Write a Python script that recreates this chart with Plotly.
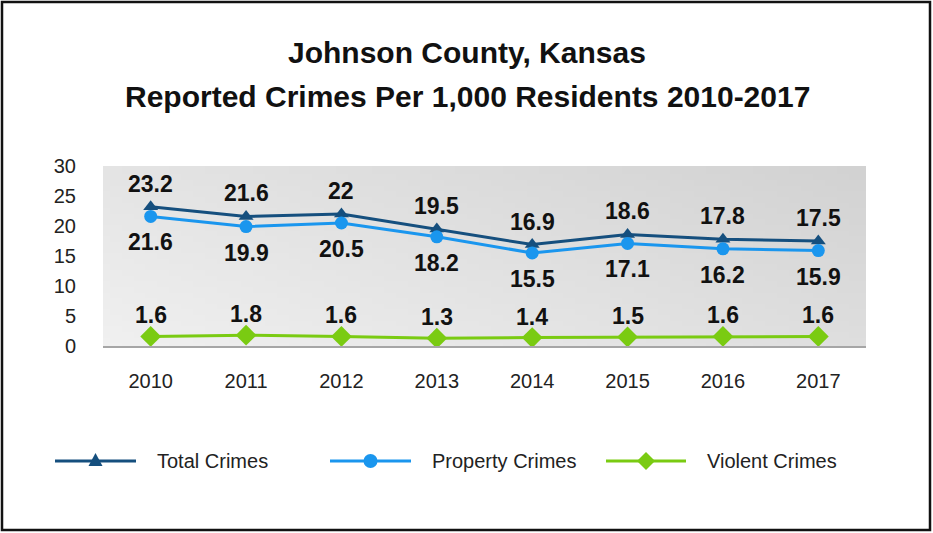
import base64
import struct
import zlib

import plotly.graph_objects as go

# ---- data -------------------------------------------------------------
years = ["2010", "2011", "2012", "2013", "2014", "2015", "2016", "2017"]
total_crimes = [23.2, 21.6, 22.0, 19.5, 16.9, 18.6, 17.8, 17.5]
property_crimes = [21.6, 19.9, 20.5, 18.2, 15.5, 17.1, 16.2, 15.9]
violent_crimes = [1.6, 1.8, 1.6, 1.3, 1.4, 1.5, 1.6, 1.6]
y_ticks = [0, 5, 10, 15, 20, 25, 30]
series_names = ["Total Crimes", "Property Crimes", "Violent Crimes"]

TITLE_1 = "Johnson County, Kansas"
TITLE_2 = "Reported Crimes Per 1,000 Residents 2010-2017"

FONT = "Liberation Sans, Arial, sans-serif"
C_TOTAL = "#154f7e"
C_PROPERTY = "#1a96ee"
C_VIOLENT = "#7acb12"

W, H = 933, 533
L, R, T, B = 103, 67, 166, 187
pw = W - L - R
ph = H - T - B


def px(x):
    """Pixel x (from figure left) -> paper x."""
    return (x - L) / pw


def py(y):
    """Pixel y (from figure top) -> paper y."""
    return (H - B - y) / ph


def gradient_png(w=64, h=32):
    """Small grey diagonal gradient PNG (light bottom-left, darker top-right)."""
    rows = b""
    for j in range(h):
        wy = 1 - j / (h - 1)
        row = b"\x00"
        for i in range(w):
            ux = i / (w - 1)
            v = int(round(240 - 18 * ux - 12 * wy))
            row += bytes([v, v, v])
        rows += row

    def chunk(tag, data):
        c = struct.pack(">I", len(data)) + tag + data
        return c + struct.pack(">I", zlib.crc32(tag + data) & 0xFFFFFFFF)

    png = b"\x89PNG\r\n\x1a\n"
    png += chunk(b"IHDR", struct.pack(">IIBBBBB", w, h, 8, 2, 0, 0, 0))
    png += chunk(b"IDAT", zlib.compress(rows, 9))
    png += chunk(b"IEND", b"")
    return "data:image/png;base64," + base64.b64encode(png).decode()


fig = go.Figure()
series = [
    (total_crimes, C_TOTAL, "triangle-up", 13, 23),
    (property_crimes, C_PROPERTY, "circle", 13, -26),
    (violent_crimes, C_VIOLENT, "diamond", 16, 21),
]
annotations = []
for (vals, color, symbol, msize, shift), name in zip(series, series_names):
    fig.add_trace(go.Scatter(
        x=years, y=vals, name=name, mode="lines+markers",
        line=dict(color=color, width=3),
        marker=dict(symbol=symbol, size=msize, color=color),
        showlegend=False,
    ))
    # value labels; category index positions on the x axis
    for i, yv in enumerate(vals):
        annotations.append(dict(
            x=i, y=yv, xref="x", yref="y", text=f"<b>{yv:g}</b>",
            showarrow=False, yshift=shift, xanchor="center", yanchor="middle",
            font=dict(family=FONT, size=23, color="#111111"),
        ))

# Titles
for text, ypix in [(TITLE_1, 52), (TITLE_2, 96)]:
    annotations.append(dict(
        text=f"<b>{text}</b>", xref="paper", yref="paper",
        x=px(467), y=py(ypix), xanchor="center", yanchor="middle",
        showarrow=False, font=dict(family=FONT, size=30, color="#111111"),
    ))

# Legend, drawn as line + marker + label
shapes = []
LEG_Y = 461
legend_items = [
    (series_names[0], C_TOTAL, "triangle", 55, 136),
    (series_names[1], C_PROPERTY, "circle", 330, 411),
    (series_names[2], C_VIOLENT, "diamond", 606, 686),
]
for name, color, kind, x0, x1 in legend_items:
    shapes.append(dict(type="line", xref="paper", yref="paper",
                       x0=px(x0), x1=px(x1), y0=py(LEG_Y), y1=py(LEG_Y),
                       line=dict(color=color, width=3)))
    cx = (x0 + x1) / 2
    if kind == "triangle":
        path = (f"M {px(cx - 7)},{py(LEG_Y + 5)} L {px(cx + 7)},{py(LEG_Y + 5)} "
                f"L {px(cx)},{py(LEG_Y - 8)} Z")
        shapes.append(dict(type="path", xref="paper", yref="paper", path=path,
                           fillcolor=color, line=dict(color=color, width=0)))
    elif kind == "circle":
        shapes.append(dict(type="circle", xref="paper", yref="paper",
                           x0=px(cx - 7), x1=px(cx + 7),
                           y0=py(LEG_Y + 7), y1=py(LEG_Y - 7),
                           fillcolor=color, line=dict(color=color, width=0)))
    else:
        path = (f"M {px(cx - 9)},{py(LEG_Y)} L {px(cx)},{py(LEG_Y - 9)} "
                f"L {px(cx + 9)},{py(LEG_Y)} L {px(cx)},{py(LEG_Y + 9)} Z")
        shapes.append(dict(type="path", xref="paper", yref="paper", path=path,
                           fillcolor=color, line=dict(color=color, width=0)))
    annotations.append(dict(
        text=name, xref="paper", yref="paper", x=px(x1 + 19), y=py(LEG_Y),
        xanchor="left", yanchor="middle", showarrow=False,
        font=dict(family=FONT, size=20, color="#222222"),
    ))

# Outer frame
shapes.append(dict(
    type="rect", xref="paper", yref="paper",
    x0=px(2), x1=px(930), y0=py(2), y1=py(530),
    line=dict(color="#111111", width=2.5), fillcolor="rgba(0,0,0,0)",
    layer="above",
))

fig.update_layout(
    width=W, height=H,
    margin=dict(l=L, r=R, t=T, b=B),
    paper_bgcolor="white",
    plot_bgcolor="#e4e4e4",
    font=dict(family=FONT, color="#222222"),
    showlegend=False,
    xaxis=dict(
        type="category", range=[-0.5, 7.5],
        showgrid=False, showline=True, linecolor="#a6a6a6", linewidth=1.5,
        ticks="", ticklabelstandoff=16,
        tickfont=dict(family=FONT, size=20, color="#222222"),
        zeroline=False, fixedrange=True,
    ),
    yaxis=dict(
        range=[0, 30], tickvals=y_ticks, showgrid=False, zeroline=False,
        showline=False, ticks="", ticklabelstandoff=26,
        tickfont=dict(family=FONT, size=20, color="#222222"),
        fixedrange=True,
    ),
    images=[dict(
        source=gradient_png(), xref="paper", yref="paper",
        x=0, y=1, sizex=1, sizey=1, sizing="stretch",
        xanchor="left", yanchor="top", layer="below",
    )],
    shapes=shapes,
    annotations=annotations,
)

fig.write_html("out.html", config=dict(displayModeBar=False))
